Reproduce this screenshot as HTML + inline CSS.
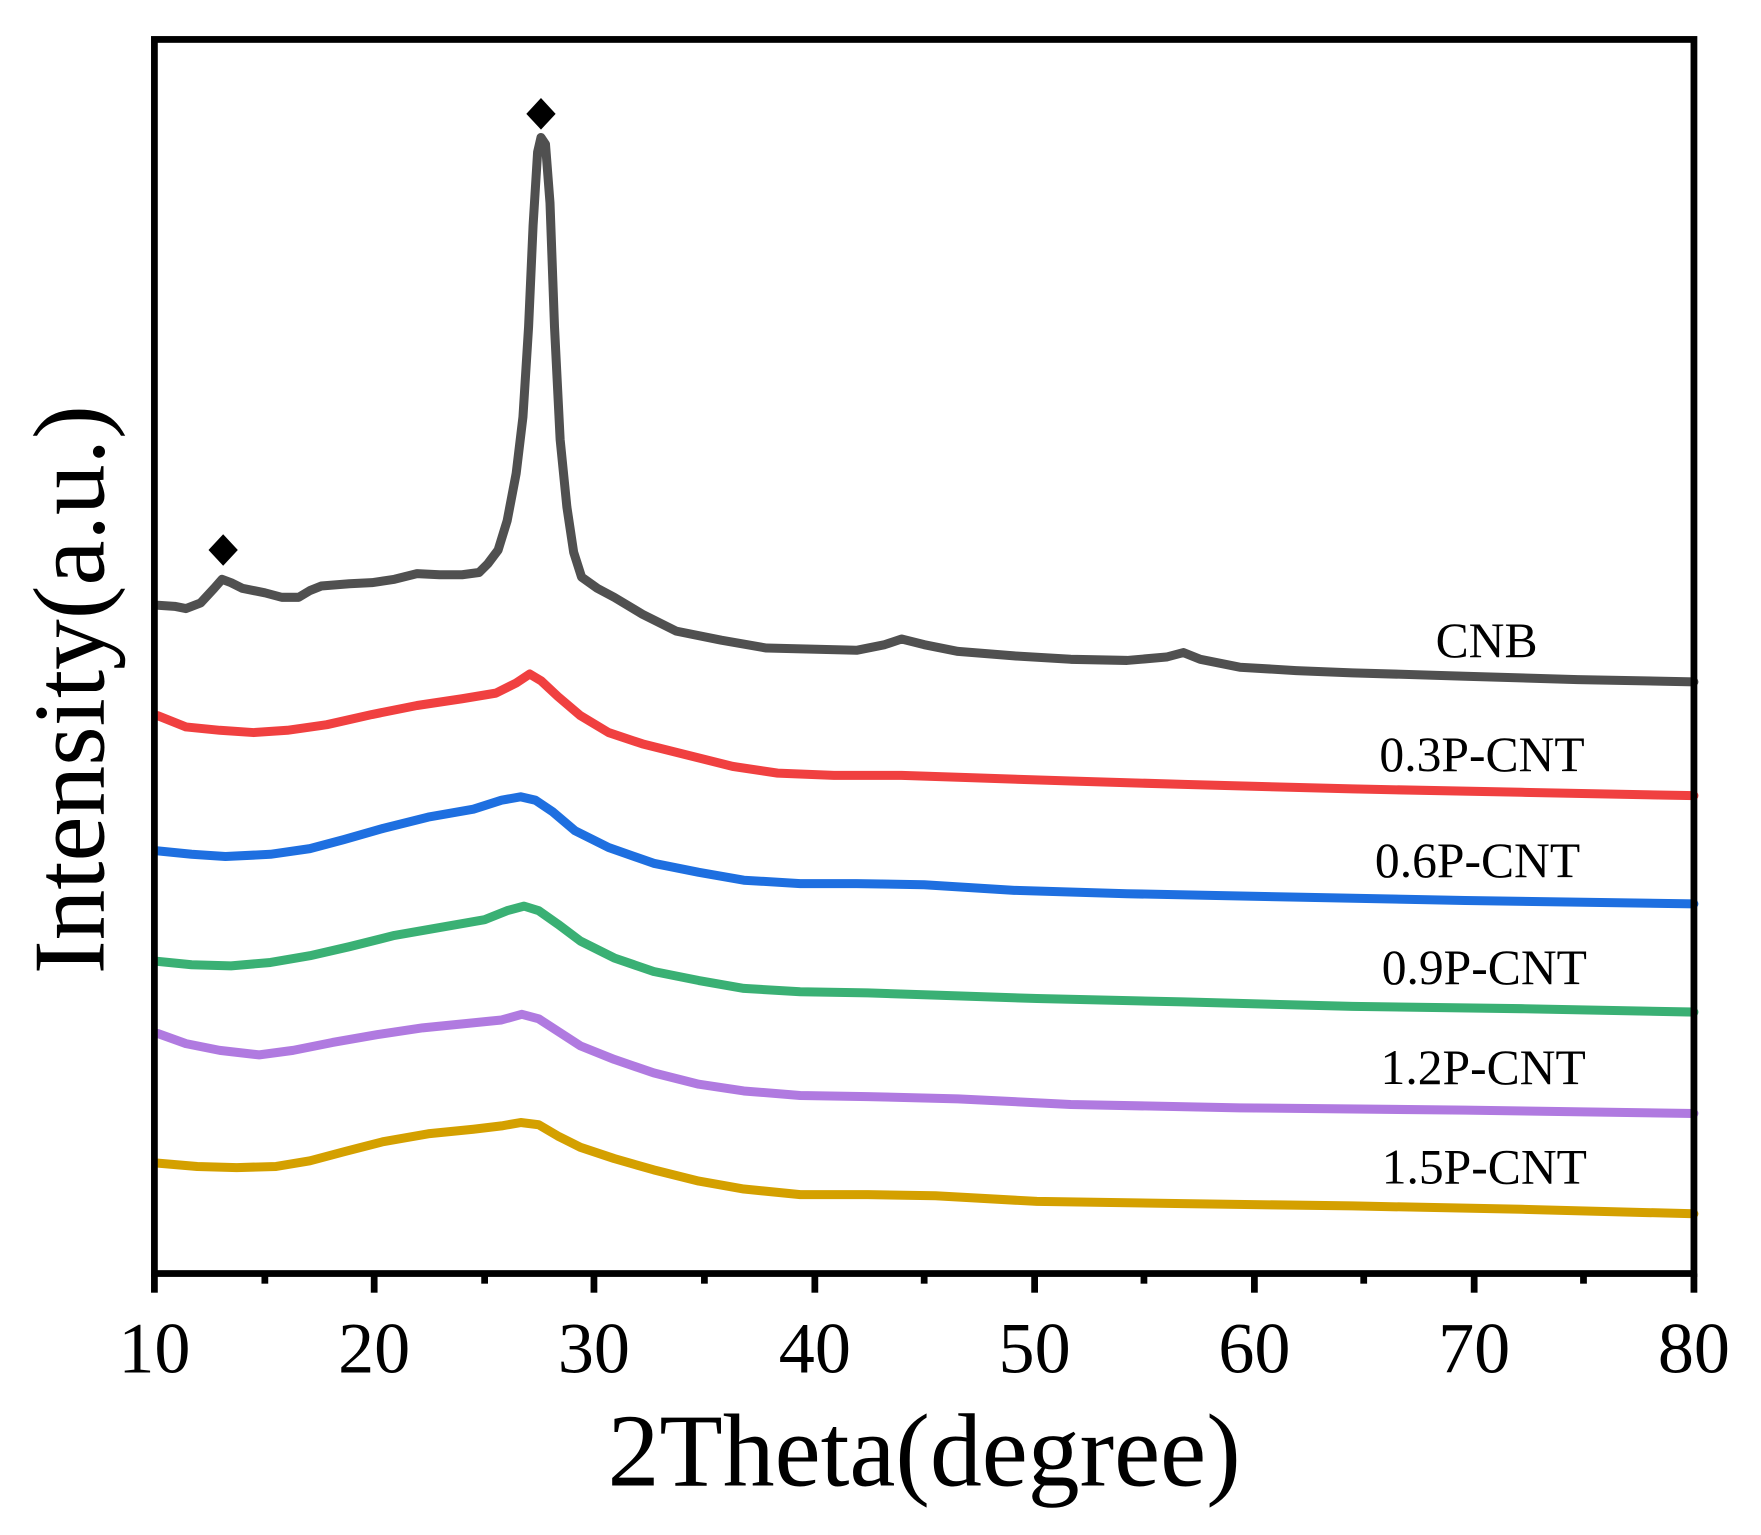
<!DOCTYPE html>
<html><head><meta charset="utf-8"><style>
html,body{margin:0;padding:0;background:#fff;}
svg{display:block;}
text{font-family:"Liberation Serif",serif;fill:#000;}
</style></head><body>
<svg width="1761" height="1535" viewBox="0 0 1562.5 1362" preserveAspectRatio="none" xmlns="http://www.w3.org/2000/svg">
<g fill="none" stroke-linejoin="round" stroke-linecap="round" stroke-width="8">
<path stroke="#505050" d="M140,537 L155,538 L165,540 L178,535 L190,522 L197,514 L205,517 L215,522 L235,526 L250,530 L265,530 L275,524 L285,520 L310,518 L330,517 L350,514 L370,509 L390,510 L410,510 L425,508 L433,500 L442,488 L450,462 L458,420 L464,370 L469,290 L473,200 L477,135 L480,122 L484,128 L488,180 L492,290 L497,390 L503,450 L509,490 L516,512 L530,522 L545,530 L570,545 L600,560 L640,568 L680,575 L720,576 L760,577 L785,572 L800,567 L820,572 L850,578 L900,582 L950,585 L1000,586 L1035,583 L1050,579 L1065,585 L1100,592 L1150,595 L1200,597 L1300,600 L1400,603 L1503,605"/>
<path stroke="#f04040" d="M140,635 L165,645 L195,648 L225,650 L255,648 L290,643 L330,634 L370,626 L410,620 L440,615 L458,606 L470,598 L480,604 L495,618 L515,635 L540,650 L570,660 L610,670 L650,680 L690,686 L740,688 L800,688 L860,690 L950,693 L1050,696 L1200,700 L1350,703 L1503,706"/>
<path stroke="#1e6fe0" d="M140,755 L170,758 L200,760 L240,758 L275,753 L305,745 L340,735 L380,725 L420,718 L445,710 L462,707 L475,710 L490,720 L510,737 L540,752 L580,766 L620,774 L660,781 L710,784 L760,784 L820,785 L900,790 L1000,793 L1150,796 L1300,799 L1503,802"/>
<path stroke="#3ab074" d="M140,853 L170,856 L205,857 L240,854 L275,848 L310,840 L350,830 L390,823 L430,816 L450,808 L465,804 L478,808 L495,820 L515,835 L545,850 L580,862 L620,870 L660,877 L710,880 L770,881 L830,883 L920,886 L1050,889 L1200,893 L1350,895 L1503,898"/>
<path stroke="#b07ae0" d="M140,917 L165,926 L195,932 L230,936 L260,932 L295,925 L335,918 L375,912 L415,908 L445,905 L463,900 L478,904 L495,915 L515,928 L545,940 L580,952 L620,962 L660,968 L710,972 L770,973 L850,975 L950,980 L1100,983 L1300,985 L1503,988"/>
<path stroke="#d4a000" d="M140,1032 L175,1035 L210,1036 L245,1035 L275,1030 L305,1022 L340,1013 L380,1006 L420,1002 L445,999 L462,996 L478,998 L495,1008 L515,1018 L545,1028 L580,1038 L620,1048 L660,1055 L710,1060 L770,1060 L830,1061 L920,1066 L1050,1068 L1200,1070 L1350,1073 L1503,1077"/>
</g>
<path d="M480,87 L493,101 L480,115 L467,101 Z" fill="#000"/>
<path d="M198,474 L211,488 L198,502 L185,488 Z" fill="#000"/>
<rect x="137" y="35" width="1366" height="1095" fill="none" stroke="#000" stroke-width="6"/>
<g stroke="#000" stroke-width="6">
<line x1="137" y1="1130" x2="137" y2="1147"/><line x1="332" y1="1130" x2="332" y2="1147"/><line x1="527" y1="1130" x2="527" y2="1147"/><line x1="723" y1="1130" x2="723" y2="1147"/><line x1="918" y1="1130" x2="918" y2="1147"/><line x1="1113" y1="1130" x2="1113" y2="1147"/><line x1="1308" y1="1130" x2="1308" y2="1147"/><line x1="1503" y1="1130" x2="1503" y2="1147"/>
<line x1="235" y1="1130" x2="235" y2="1139"/><line x1="430" y1="1130" x2="430" y2="1139"/><line x1="625" y1="1130" x2="625" y2="1139"/><line x1="820" y1="1130" x2="820" y2="1139"/><line x1="1015" y1="1130" x2="1015" y2="1139"/><line x1="1210" y1="1130" x2="1210" y2="1139"/><line x1="1405" y1="1130" x2="1405" y2="1139"/>
</g>
<g font-size="64" text-anchor="middle">
<text x="137" y="1218">10</text><text x="332" y="1218">20</text><text x="527" y="1218">30</text><text x="723" y="1218">40</text><text x="918" y="1218">50</text><text x="1113" y="1218">60</text><text x="1308" y="1218">70</text><text x="1503" y="1218">80</text>
</g>
<text x="820" y="1318" font-size="92" text-anchor="middle">2Theta(degree)</text>
<text transform="translate(92,612) rotate(-90)" font-size="90" text-anchor="middle">Intensity(a.u.)</text>
<g font-size="44" text-anchor="middle">
<text x="1319" y="583">CNB</text>
<text x="1315" y="684">0.3P-CNT</text>
<text x="1311" y="778">0.6P-CNT</text>
<text x="1317" y="873">0.9P-CNT</text>
<text x="1316" y="962">1.2P-CNT</text>
<text x="1317" y="1050">1.5P-CNT</text>
</g>
</svg>
</body></html>
